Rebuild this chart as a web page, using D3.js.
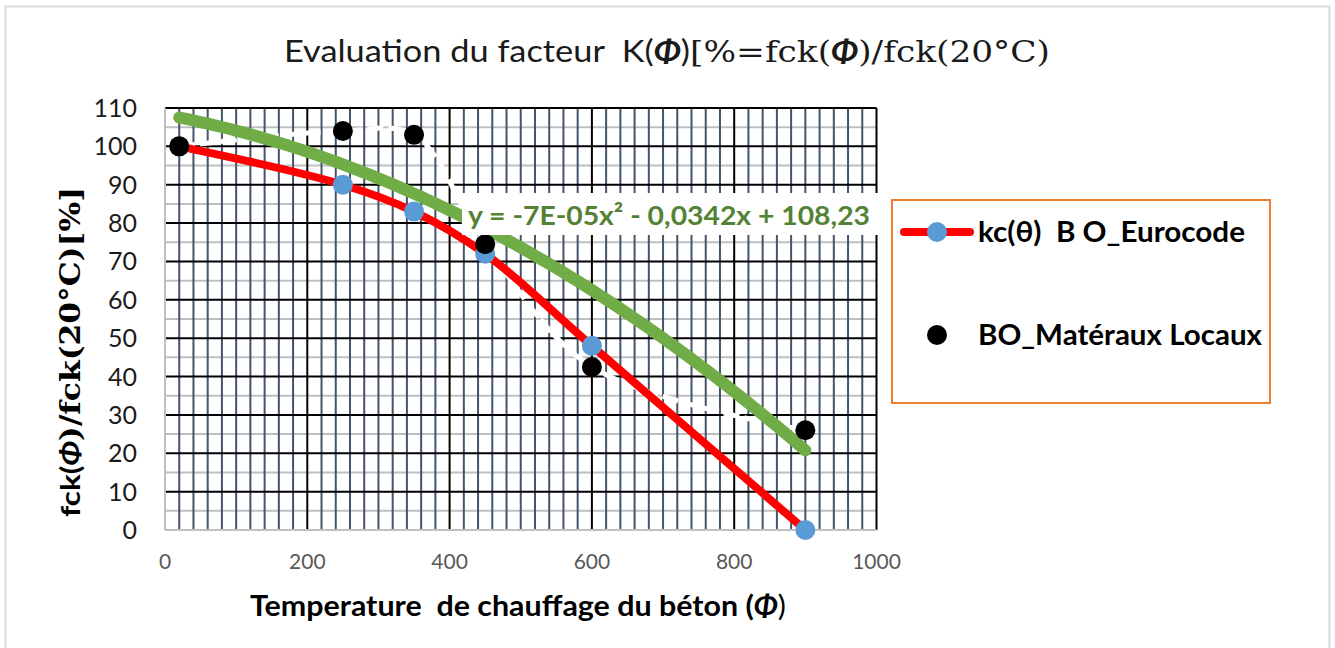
<!DOCTYPE html>
<meta charset="utf-8">
<style>
  body { margin: 0; background: #fff; }
  text { font-family: Lato, "Open Sans", sans-serif; white-space: pre; }
  .serif { font-family: "DejaVu Serif", "Liberation Serif", serif; }
</style>
<body>
<svg width="1335" height="648"></svg>
<script src="https://cdn.jsdelivr.net/npm/d3@7"></script>
<script>
  // data
  const tempEuro = [20, 250, 350, 450, 600, 900];
  const kEuro = [100, 90, 83, 72, 48, 0];
  const tempLocal = [20, 250, 350, 450, 600, 900];
  const kLocal = [100, 104, 103, 74.5, 42.5, 26];
  // polynomial trendline printed on the chart: c0 + c1 x + c2 x^2
  const trendCoef = [108.23, -0.0342, -7e-5];
  const trendLabel = "y = -7E-05x² - 0,0342x + 108,23";
  const yTicks = [0, 10, 20, 30, 40, 50, 60, 70, 80, 90, 100, 110];
  const xTicks = [0, 200, 400, 600, 800, 1000];
  const seriesNames = ["kc(θ)  B O_Eurocode", "BO_Matéraux Locaux"];

  const svg = d3.select("svg");
  const plotL = 165, plotR = 876.5, plotT = 108, plotB = 530;

  const x = d3.scaleLinear().domain([0, 1000]).range([plotL, plotR]);
  const y = d3.scaleLinear().domain([0, 110]).range([plotB, plotT]);

  // outer frame
  svg.append("rect")
      .attr("x", 5.5).attr("y", 6.5)
      .attr("width", 1324).attr("height", 645)
      .attr("fill", "none").attr("stroke", "#d9d9d9").attr("stroke-width", 2);

  // grid
  const grid = svg.append("g");
  grid.selectAll(".hmin")
    .data(d3.range(5, 110, 10))
    .enter().append("line")
      .attr("x1", plotL).attr("x2", plotR)
      .attr("y1", d => y(d)).attr("y2", d => y(d))
      .attr("stroke", "#bfbfbf").attr("stroke-width", 2);
  grid.selectAll(".vmin")
    .data(d3.range(20, 1000, 20).filter(d => d % 200 !== 0))
    .enter().append("line")
      .attr("y1", plotT).attr("y2", plotB)
      .attr("x1", d => x(d)).attr("x2", d => x(d))
      .attr("stroke", "#44546a").attr("stroke-width", 2);
  grid.selectAll(".hmaj")
    .data(yTicks.slice(1))
    .enter().append("line")
      .attr("x1", plotL).attr("x2", plotR)
      .attr("y1", d => y(d)).attr("y2", d => y(d))
      .attr("stroke", "#000").attr("stroke-width", 2);
  grid.selectAll(".vmaj")
    .data(xTicks.slice(1))
    .enter().append("line")
      .attr("y1", plotT).attr("y2", plotB)
      .attr("x1", d => x(d)).attr("x2", d => x(d))
      .attr("stroke", "#000").attr("stroke-width", 2);
  // axis lines
  grid.append("line").attr("x1", plotL).attr("x2", plotR)
      .attr("y1", y(0)).attr("y2", y(0))
      .attr("stroke", "#bfbfbf").attr("stroke-width", 2);
  grid.append("line").attr("x1", x(0)).attr("x2", x(0))
      .attr("y1", plotT).attr("y2", plotB)
      .attr("stroke", "#bfbfbf").attr("stroke-width", 2);

  // tick labels
  svg.selectAll(".ytick")
    .data(yTicks)
    .enter().append("text")
      .attr("x", 137).attr("y", d => y(d) + 9)
      .attr("text-anchor", "end")
      .attr("font-size", 25).attr("fill", "#1a1a1a")
      .text(d => d);
  svg.selectAll(".xtick")
    .data(xTicks)
    .enter().append("text")
      .attr("x", d => x(d)).attr("y", 569)
      .attr("text-anchor", "middle")
      .attr("font-size", 21).attr("fill", "#595959")
      .text(d => d);

  const smooth = d3.line().curve(d3.curveCatmullRom.alpha(0.5));

  // local materials series line (white dashed)
  svg.append("path")
      .attr("d", smooth(tempLocal.map((t, i) => [x(t), y(kLocal[i])])))
      .attr("fill", "none").attr("stroke", "#fff")
      .attr("stroke-width", 5).attr("stroke-dasharray", "16,5");

  // eurocode series
  svg.append("path")
      .attr("d", smooth(tempEuro.map((t, i) => [x(t), y(kEuro[i])])))
      .attr("fill", "none").attr("stroke", "#ff0000")
      .attr("stroke-width", 8).attr("stroke-linecap", "round");
  svg.selectAll(".euro")
    .data(tempEuro)
    .enter().append("circle")
      .attr("cx", d => x(d)).attr("cy", (d, i) => y(kEuro[i]))
      .attr("r", 10).attr("fill", "#5b9bd5");

  // trendline
  const poly = t => trendCoef[0] + trendCoef[1] * t + trendCoef[2] * t * t;
  const tt = d3.range(tempLocal[0], tempLocal[tempLocal.length - 1] + 1, 10);
  svg.append("path")
      .attr("d", d3.line()(tt.map(t => [x(t), y(poly(t))])))
      .attr("fill", "none").attr("stroke", "#70ad47")
      .attr("stroke-width", 12).attr("stroke-linecap", "round");

  svg.selectAll(".local")
    .data(tempLocal)
    .enter().append("circle")
      .attr("cx", d => x(d)).attr("cy", (d, i) => y(kLocal[i]))
      .attr("r", 10).attr("fill", "#000");

  // trendline label
  svg.append("rect")
      .attr("x", 462).attr("y", 193).attr("width", 416).attr("height", 42)
      .attr("fill", "#fff");
  svg.append("text")
      .attr("x", 468).attr("y", 225)
      .attr("font-size", 27).attr("font-weight", "bold").attr("fill", "#548235")
      .attr("textLength", 402).attr("lengthAdjust", "spacingAndGlyphs")
      .text(trendLabel);

  // title
  const title = svg.append("text")
      .attr("x", 284).attr("y", 62)
      .attr("font-size", 30).attr("fill", "#1a1a1a")
      .attr("textLength", 766).attr("lengthAdjust", "spacingAndGlyphs");
  title.append("tspan").text("Evaluation du facteur  K(");
  title.append("tspan").attr("font-weight", "bold").attr("font-style", "italic").text("Φ");
  title.append("tspan").text(")");
  title.append("tspan").attr("class", "serif").text("[%=fck(");
  title.append("tspan").attr("font-weight", "bold").attr("font-style", "italic").text("Φ");
  title.append("tspan").attr("class", "serif").text(")/fck(20°C)");

  // axis titles
  const xt = svg.append("text")
      .attr("x", 250).attr("y", 616)
      .attr("font-size", 28).attr("font-weight", "bold").attr("fill", "#000")
      .attr("textLength", 536).attr("lengthAdjust", "spacingAndGlyphs");
  xt.append("tspan").text("Temperature  de chauffage du béton (");
  xt.append("tspan").attr("font-style", "italic").text("Φ");
  xt.append("tspan").attr("font-weight", "normal").text(")");

  const yt = svg.append("text")
      .attr("transform", "translate(80,517) rotate(-90)")
      .attr("font-size", 27).attr("font-weight", "bold").attr("fill", "#000")
      .attr("textLength", 330).attr("lengthAdjust", "spacingAndGlyphs");
  yt.append("tspan").text("fck(");
  yt.append("tspan").attr("font-style", "italic").text("Φ");
  yt.append("tspan").attr("class", "serif").text(")/fck(20°C)[%]");

  // legend
  const lg = svg.append("g");
  lg.append("rect")
      .attr("x", 892).attr("y", 200).attr("width", 378).attr("height", 203)
      .attr("fill", "#fff").attr("stroke", "#ed7d31").attr("stroke-width", 2);
  lg.append("line")
      .attr("x1", 904).attr("x2", 970).attr("y1", 232).attr("y2", 232)
      .attr("stroke", "#ff0000").attr("stroke-width", 8).attr("stroke-linecap", "round");
  lg.append("circle").attr("cx", 937).attr("cy", 232).attr("r", 10).attr("fill", "#5b9bd5");
  lg.append("circle").attr("cx", 937).attr("cy", 335).attr("r", 10).attr("fill", "#000");
  lg.selectAll(".lt")
    .data(seriesNames)
    .enter().append("text")
      .attr("x", 978).attr("y", (d, i) => i === 0 ? 242 : 345)
      .attr("font-size", 28).attr("font-weight", "bold").attr("fill", "#000")
      .attr("textLength", (d, i) => i === 0 ? 267 : 284)
      .attr("lengthAdjust", "spacingAndGlyphs")
      .text(d => d);
</script>
</body>
